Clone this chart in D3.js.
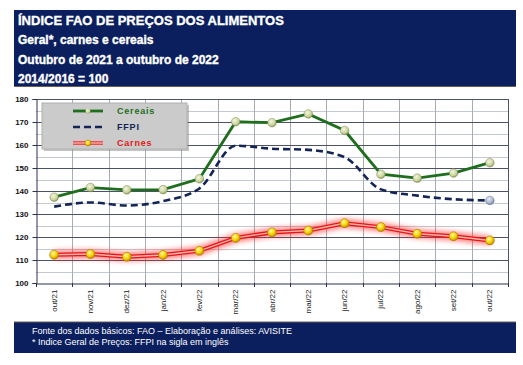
<!DOCTYPE html>
<html><head><meta charset="utf-8">
<script src="https://cdn.jsdelivr.net/npm/d3@7"></script>
<style>body{margin:0;background:#fff;} svg{display:block;}</style>
</head><body>
<svg id="c" width="523" height="365"></svg>
<script>
const months = ["out/21","nov/21","dez/21","jan/22","fev/22","mar/22","abr/22","mai/22","jun/22","jul/22","ago/22","set/22","out/22"];
const cereais = [137.3,141.5,140.5,140.6,145.3,170.1,169.7,173.5,166.3,147.3,145.6,147.8,152.3];
const ffpi = [133.2,135.0,133.7,135.6,141.1,159.7,158.4,157.9,154.7,140.7,138.0,136.4,135.9];
const carnes = [112.3,112.6,111.4,112.2,114.0,119.6,122.0,122.8,126.0,124.3,121.4,120.3,118.5];
const yTicks = [100,110,120,130,140,150,160,170,180];
const titleLines = ["ÍNDICE FAO DE PREÇOS DOS ALIMENTOS","Geral*, carnes e cereais","Outubro de 2021 a outubro de 2022","2014/2016 = 100"];
const footLines = ["Fonte dos dados básicos: FAO – Elaboração e análises: AVISITE","* Indice Geral de Preços: FFPI na sigla em inglês"];

const svg = d3.select("#c");
const navy = "#0b1f5e";
const defs = svg.append("defs");
const fg = defs.append("filter").attr("id","glow").attr("x","-10%").attr("y","-50%").attr("width","120%").attr("height","200%");
fg.append("feGaussianBlur").attr("stdDeviation",2.5);
const gy = defs.append("radialGradient").attr("id","gy").attr("cx","40%").attr("cy","35%").attr("r","65%");
gy.append("stop").attr("offset","0%").attr("stop-color","#fff9a0");
gy.append("stop").attr("offset","60%").attr("stop-color","#f2d000");
gy.append("stop").attr("offset","100%").attr("stop-color","#c08a00");
const gg = defs.append("radialGradient").attr("id","gg").attr("cx","40%").attr("cy","35%").attr("r","65%");
gg.append("stop").attr("offset","0%").attr("stop-color","#f4f6e0");
gg.append("stop").attr("offset","70%").attr("stop-color","#c9d39a");
gg.append("stop").attr("offset","100%").attr("stop-color","#8e9a5e");
const gb = defs.append("radialGradient").attr("id","gb").attr("cx","40%").attr("cy","35%").attr("r","65%");
gb.append("stop").attr("offset","0%").attr("stop-color","#e6ecf6");
gb.append("stop").attr("offset","70%").attr("stop-color","#a7b4cc");
gb.append("stop").attr("offset","100%").attr("stop-color","#6c7a96");

// header
svg.append("rect").attr("x",14).attr("y",10).attr("width",502).attr("height",76).attr("fill",navy);
svg.append("line").attr("x1",14).attr("x2",516).attr("y1",86.5).attr("y2",86.5).attr("stroke","#6b5d55").attr("stroke-width",1);
svg.selectAll("text.t").data(titleLines).join("text")
  .attr("x",18).attr("y",(d,i)=>24.5+i*19.5)
  .attr("fill","#fff").attr("font-family","Liberation Sans, Arial, sans-serif")
  .attr("font-weight","bold").attr("font-size",(d,i)=>i==0?13:12).attr("stroke","#fff").attr("stroke-width",0.35).text(d=>d);

// footer
svg.append("rect").attr("x",14).attr("y",322).attr("width",502).attr("height",31).attr("fill",navy);
svg.append("line").attr("x1",14).attr("x2",516).attr("y1",322).attr("y2",322).attr("stroke","#6b5d55");
svg.selectAll("text.f").data(footLines).join("text")
  .attr("x",32).attr("y",(d,i)=>334+i*11)
  .attr("fill","#fff").attr("font-family","Liberation Sans, Arial, sans-serif")
  .attr("font-size",9).text(d=>d);

// plot
const L=36, R=508, T=99, B=283;
const x = d3.scaleBand().domain(months).range([L,R]);
const y = d3.scaleLinear().domain([100,180]).range([B,T]);
const minor = d3.range(105,180,10);
const g = svg.append("g");
g.selectAll("line.mn").data(minor).join("line").attr("x1",L).attr("x2",R)
  .attr("y1",d=>Math.round(y(d))+.5).attr("y2",d=>Math.round(y(d))+.5).attr("stroke","#c4c8d0").attr("stroke-width",1);
g.selectAll("line.vg").data(months.slice(1)).join("line")
  .attr("x1",d=>Math.round(x(d))+.5).attr("x2",d=>Math.round(x(d))+.5).attr("y1",T).attr("y2",B).attr("stroke","#a8abb2");
g.selectAll("line.mj").data(yTicks.slice(1)).join("line").attr("x1",L).attr("x2",R)
  .attr("y1",d=>Math.round(y(d))+.5).attr("y2",d=>Math.round(y(d))+.5).attr("stroke","#4d5366").attr("stroke-width",1);
g.append("line").attr("x1",R+.5).attr("x2",R+.5).attr("y1",T).attr("y2",B).attr("stroke","#4d5366");

// axes
const ya = d3.axisLeft(y).tickValues(yTicks).tickSize(4).tickFormat(d3.format("d"));
const yG = svg.append("g").attr("transform",`translate(${L+.5},0)`).call(ya);
yG.select(".domain").attr("stroke","#2a3150");
yG.selectAll(".tick line").attr("stroke","#2a3150");
yG.selectAll("text").attr("font-family","Liberation Sans, Arial, sans-serif").attr("font-weight","bold").attr("font-size",8).attr("fill","#111").attr("x",-8);

const xa = d3.axisBottom(x).tickSize(0).tickFormat(d=>d);
const xG = svg.append("g").attr("transform",`translate(0,${B+.5})`).call(xa);
xG.select(".domain").attr("stroke","#2a3150");
xG.selectAll(".tick text").attr("font-family","Liberation Sans, Arial, sans-serif").attr("font-size",8).attr("fill","#222")
  .attr("transform","rotate(-90)").attr("text-anchor","end").attr("x",-6).attr("y",0).attr("dy","0.32em");
svg.append("g").selectAll("line").data(months).join("line")
  .attr("x1",d=>Math.round(x(d))+.5).attr("x2",d=>Math.round(x(d))+.5).attr("y1",B).attr("y2",B+4).attr("stroke","#2a3150");
svg.append("line").attr("x1",R+.5).attr("x2",R+.5).attr("y1",B).attr("y2",B+4).attr("stroke","#2a3150");

const cx = d=>x(d)+x.bandwidth()/2;
// FFPI
const lf = d3.line().x((d,i)=>cx(months[i])).y(d=>y(d)).curve(d3.curveMonotoneX);
svg.append("path").attr("d",lf(ffpi)).attr("fill","none").attr("stroke","#142456").attr("stroke-width",2.6).attr("stroke-dasharray","7,4");
svg.append("circle").attr("cx",cx(months[12])).attr("cy",y(ffpi[12])).attr("r",4.3).attr("fill","url(#gb)").attr("stroke","#6c7a96").attr("stroke-width",.5);

// Cereais
const ll = d3.line().x((d,i)=>cx(months[i])).y(d=>y(d));
svg.append("path").attr("d",ll(cereais)).attr("fill","none").attr("stroke","#1e6e1e").attr("stroke-width",2.8);
svg.selectAll("circle.c").data(cereais).join("circle").attr("cx",(d,i)=>cx(months[i])).attr("cy",d=>y(d)).attr("r",4.3)
  .attr("fill","url(#gg)").attr("stroke","#7f8b50").attr("stroke-width",.5);

// Carnes
svg.append("path").attr("d",ll(carnes)).attr("fill","none").attr("stroke","#ff2020").attr("stroke-width",9).attr("opacity",.55).attr("filter","url(#glow)");
svg.append("path").attr("d",ll(carnes)).attr("fill","none").attr("stroke","#e01818").attr("stroke-width",4);
svg.append("path").attr("d",ll(carnes)).attr("fill","none").attr("stroke","#ffb0a8").attr("stroke-width",1.4);
svg.selectAll("circle.m").data(carnes).join("circle").attr("cx",(d,i)=>cx(months[i])).attr("cy",d=>y(d)).attr("r",4.5)
  .attr("fill","url(#gy)").attr("stroke","#b07000").attr("stroke-width",.6);

// legend
const lg = svg.append("g");
lg.append("rect").attr("x",44).attr("y",105).attr("width",145).attr("height",46).attr("fill","#8a8a8a").attr("opacity",.5);
lg.append("rect").attr("x",42).attr("y",103).attr("width",145).attr("height",46).attr("fill","#cbcbcb").attr("stroke","#b0b0b0");
const lx1=73, lx2=103;
lg.append("line").attr("x1",lx1).attr("x2",lx2).attr("y1",111).attr("y2",111).attr("stroke","#1e6e1e").attr("stroke-width",2.8);
lg.append("circle").attr("cx",88).attr("cy",111).attr("r",2.5).attr("fill","url(#gg)");
lg.append("line").attr("x1",lx1).attr("x2",lx2).attr("y1",127).attr("y2",127).attr("stroke","#142456").attr("stroke-width",2.6).attr("stroke-dasharray","7,4");
lg.append("line").attr("x1",lx1).attr("x2",lx2).attr("y1",143).attr("y2",143).attr("stroke","#e85050").attr("stroke-width",4);
lg.append("line").attr("x1",lx1).attr("x2",lx2).attr("y1",143).attr("y2",143).attr("stroke","#ffb0a8").attr("stroke-width",1.2);
lg.append("circle").attr("cx",88).attr("cy",143).attr("r",3).attr("fill","url(#gy)").attr("stroke","#b07000").attr("stroke-width",.5);
const legT = [["Cereais","#1e6e1e",111],["FFPI","#142456",127],["Carnes","#e01818",143]];
lg.selectAll("text").data(legT).join("text").attr("x",117).attr("y",d=>d[2]).attr("dy","0.35em")
  .attr("fill",d=>d[1]).attr("font-family","Liberation Sans, Arial, sans-serif").attr("font-size",9).attr("font-weight","bold")
  .attr("letter-spacing",0.8).text(d=>d[0]);
</script>
</body></html>
